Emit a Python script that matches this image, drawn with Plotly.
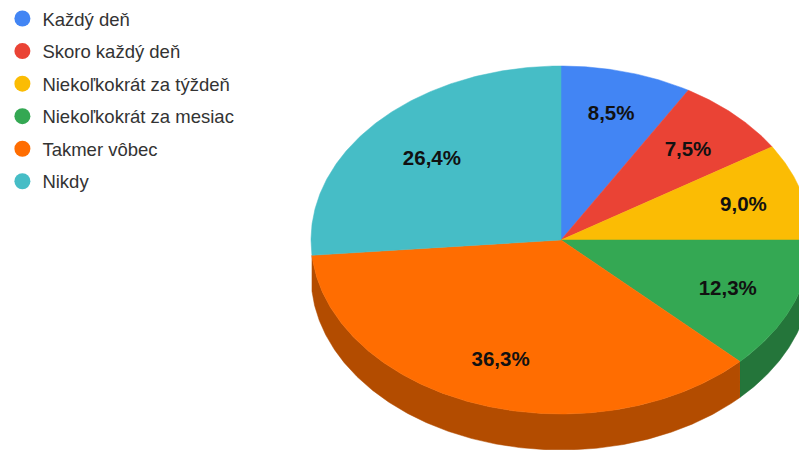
import numpy as np
import plotly.graph_objects as go

categories = ["Každý deň", "Skoro každý deň", "Niekoľkokrát za týždeň",
              "Niekoľkokrát za mesiac", "Takmer vôbec", "Nikdy"]
shares = [8.5, 7.5, 9.0, 12.3, 36.3, 26.4]
top_colors = ["#4285F4", "#EA4335", "#FBBC04", "#34A853", "#FF6D01", "#46BDC6"]
side_colors = ["#2E5DAB", "#A32F25", "#B08403", "#24753A", "#B34C00", "#31848B"]

# Tilted pie geometry, in axis units (one unit is one screen pixel here)
CX, CY = 561, 240
RX, RY = 250, 174
DEPTH = 36
# How far out along each wedge's mid-angle its label sits
label_radii = [0.76, 0.73, 0.76, 0.72, 0.72, 0.70]
LABEL_DROP = 2.5


def rim(a0, a1):
    """Points along the rim between two clockwise angles measured from 12 o'clock."""
    t = np.radians(np.linspace(a0, a1, max(int(abs(a1 - a0) * 2), 2)))
    return CX + RX * np.sin(t), CY - RY * np.cos(t)


edges = np.concatenate([[0], np.cumsum(shares)]) / sum(shares) * 360
mid_deg = (edges[:-1] + edges[1:]) / 2
fig = go.Figure()

# Side walls: only wedges centred on the front half of the rim show one
for i in range(len(shares)):
    if not 90 < mid_deg[i] < 270:
        continue
    x, y = rim(max(edges[i], 90), min(edges[i + 1], 270))
    fig.add_trace(go.Scatter(
        x=np.concatenate([x, x[::-1]]),
        y=np.concatenate([y, y[::-1] + DEPTH]),
        mode="lines", fill="toself", fillcolor=side_colors[i],
        line=dict(color=side_colors[i], width=0.5),
        hoverinfo="skip", showlegend=False))

# Top face wedges
for i in range(len(shares)):
    x, y = rim(edges[i], edges[i + 1])
    fig.add_trace(go.Scatter(
        x=np.concatenate([[CX], x, [CX]]),
        y=np.concatenate([[CY], y, [CY]]),
        mode="lines", fill="toself", fillcolor=top_colors[i],
        line=dict(color=top_colors[i], width=0.5),
        name=categories[i], hoverinfo="name", showlegend=False))

# Percentage labels at each wedge's mid-angle
mid = np.radians(mid_deg)
fig.add_trace(go.Scatter(
    x=CX + np.array(label_radii) * RX * np.sin(mid),
    y=CY - np.array(label_radii) * RY * np.cos(mid) + LABEL_DROP,
    mode="text",
    text=[f"{v:.1f}%".replace(".", ",") for v in shares],
    textposition="middle center",
    textfont=dict(family="Liberation Sans", size=20.5, color="#111111", weight="bold"),
    hoverinfo="skip", showlegend=False))

# Legend entries with round markers
for name, color in zip(categories, top_colors):
    fig.add_trace(go.Scatter(
        x=[None], y=[None], mode="markers", name=name, legendgroup=name,
        marker=dict(color=color, size=17, symbol="circle")))

fig.update_layout(
    width=799, height=450,
    margin=dict(l=0, r=0, t=0, b=0),
    paper_bgcolor="white", plot_bgcolor="white",
    xaxis=dict(range=[0, 799], visible=False, fixedrange=True),
    yaxis=dict(range=[450, 0], visible=False, fixedrange=True),
    legend=dict(x=0.003, y=1.0, xanchor="left", yanchor="top",
                font=dict(family="Liberation Sans", size=18.5, color="#333333"),
                tracegroupgap=5.5, itemsizing="trace",
                bgcolor="rgba(0,0,0,0)"),
    showlegend=True,
)

fig.write_html("out.html")
